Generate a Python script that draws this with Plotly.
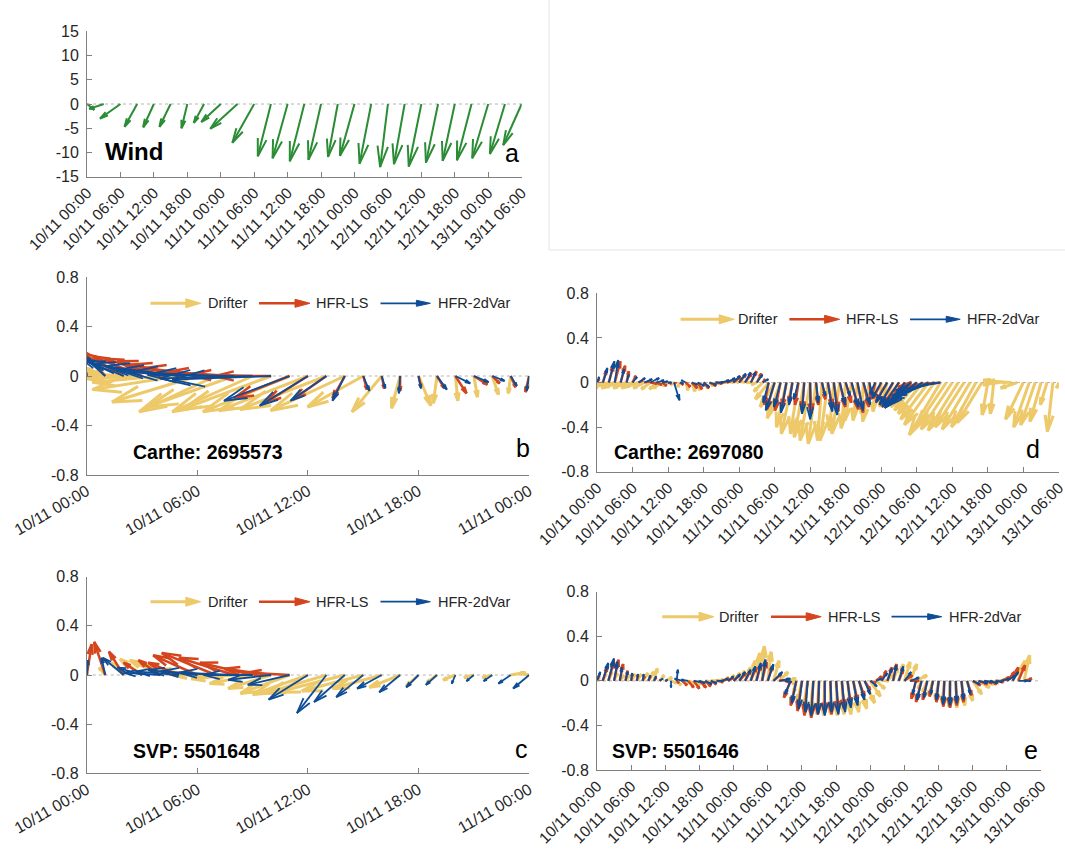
import plotly.graph_objects as go
from datetime import datetime, timedelta

FIG_W, FIG_H = 1065, 862
T0 = datetime(2021, 11, 10, 0, 0)

# ---------------- data (u, v components; hours since 10/11 00:00) ----------------
wind_hours = [0, 3, 6, 9, 12, 15, 18, 21, 24, 27, 30, 33, 36, 39, 42, 45, 48, 51, 54, 57, 60, 63, 66, 69, 72, 75, 78]
wind_u = [1.5, -3.0, -4.2, -2.6, -2.2, -2.3, -1.2, -2.1, -4.0, -5.6, -4.5, -2.7, -3.1, -3.0, -2.6, -2.0, -3.0, -2.4,
          -1.6, -2.2, -2.6, -2.5, -2.5, -3.0, -3.3, -3.1, -3.8]
wind_v = [-1.2, -1.0, -3.0, -4.7, -4.8, -4.7, -5.0, -3.9, -3.7, -5.1, -8.0, -10.8, -11.2, -11.8, -11.5, -10.9, -10.7,
          -12.3, -13.0, -12.4, -12.9, -12.1, -11.7, -11.6, -11.2, -10.3, -8.5]

b_hours = [0, 1, 2, 3, 4, 5, 6, 7, 8, 9, 10, 11, 12, 13, 14, 15, 16, 17, 18, 19, 20, 21, 22, 23, 24]
b_drifter_u = [-0.05, -0.15, -0.30, -0.45, -0.55, -0.70, -0.69, -0.62, -0.70, -0.65, -0.72, -0.70, -0.72, -0.70, -0.60,
               -0.45, -0.24, -0.07, 0.10, -0.03, 0.02, 0.03, 0.05, -0.02, 0.00]
b_drifter_v = [0.09, 0.06, 0.02, -0.02, -0.05, -0.11, -0.21, -0.29, -0.25, -0.29, -0.27, -0.29, -0.28, -0.27, -0.28,
               -0.25, -0.29, -0.26, -0.24, -0.22, -0.20, -0.17, -0.15, -0.14, -0.09]
b_ls_u = [-0.05, -0.20, -0.35, -0.40, -0.45, -0.50, -0.55, -0.60, -0.55, -0.50, -0.45, -0.45, -0.35, -0.27, -0.10,
          0.03, 0.02, 0.00, 0.02, 0.06, 0.09, 0.11, 0.06, 0.04, -0.03]
b_ls_v = [0.24, 0.22, 0.19, 0.16, 0.14, 0.12, 0.09, 0.06, 0.03, 0.01, 0.00, -0.18, -0.22, -0.19, -0.18, -0.11, -0.10,
          -0.12, -0.09, -0.10, -0.14, -0.07, -0.06, -0.09, -0.13]
b_2dvar_u = [-0.03, -0.20, -0.35, -0.45, -0.55, -0.60, -0.65, -0.70, -0.70, -0.75, -0.80, -0.53, -0.39, -0.29, -0.10,
             0.05, 0.03, -0.01, 0.02, 0.08, 0.12, 0.12, 0.10, 0.05, -0.02]
b_2dvar_v = [0.21, 0.18, 0.14, 0.12, 0.10, 0.08, 0.05, 0.03, 0.01, -0.02, -0.03, -0.20, -0.24, -0.20, -0.20, -0.12,
             -0.10, -0.14, -0.10, -0.11, -0.06, -0.05, -0.04, -0.08, -0.12]

c_hours = [0, 1, 2, 3, 4, 5, 6, 7, 8, 9, 10, 11, 12, 13, 14, 15, 16, 17, 18, 19, 20, 21, 22, 23, 24]
c_drifter_u = [0.00, -0.05, -0.10, -0.18, -0.25, -0.30, -0.32, -0.35, -0.35, -0.35, -0.35, -0.40, -0.45, -0.50, -0.55,
               -0.50, -0.40, -0.25, -0.10, -0.08, -0.10, -0.08, -0.08, 0.12, -0.05]
c_drifter_v = [0.02, 0.06, 0.10, 0.13, 0.12, 0.08, 0.04, 0.00, -0.03, -0.07, -0.11, -0.15, -0.16, -0.15, -0.14, -0.13,
               -0.11, -0.10, -0.09, -0.06, -0.04, -0.02, -0.02, 0.02, 0.01]
c_ls_hours = [0, 1, 2, 3, 4, 5, 6, 7, 8, 9, 10, 11]
c_ls_u = [0.04, -0.09, -0.12, -0.15, -0.18, -0.25, -0.36, -0.44, -0.45, -0.43, -0.38, -0.34]
c_ls_v = [0.25, 0.27, 0.19, 0.10, 0.12, 0.10, 0.16, 0.18, 0.14, 0.10, 0.05, 0.02]
c_2dvar_u = [0.01, -0.03, -0.17, -0.20, -0.30, -0.35, -0.40, -0.45, -0.45, -0.40, -0.35, -0.34, -0.32, -0.24, -0.25,
             -0.22, -0.20, -0.17, -0.10, -0.09, -0.03, -0.06, -0.07, -0.10, -0.13]
c_2dvar_v = [0.12, 0.14, 0.14, 0.06, 0.02, 0.03, 0.04, 0.03, 0.02, 0.00, -0.04, -0.08, -0.20, -0.31, -0.22, -0.18,
             -0.11, -0.14, -0.10, -0.08, -0.07, -0.05, -0.05, -0.07, -0.11]

d_drifter_hours = [0, 1, 2, 3, 4, 5, 6, 7, 8, 9, 10, 11, 12, 13, 14, 15, 16, 17, 18, 19, 20, 21, 22, 23, 24, 25, 26,
                   27, 28, 29, 30, 31, 32, 33, 34, 35, 36, 37, 38, 39, 40, 41, 42, 43, 44, 45, 46, 47, 48, 49, 50, 51,
                   52, 53, 54, 55, 56, 57, 58, 59, 60, 61, 62, 63, 64, 65, 66, 67, 68, 69, 70, 71, 72, 73, 74, 75, 76,
                   77, 78]
d_drifter_u = [-0.05, -0.10, -0.15, -0.12, -0.15, -0.12, -0.10, -0.12, -0.10, -0.08, -0.06, -0.08, -0.05, -0.03, -0.02,
               0.02, 0.03, 0.02, 0.04, 0.03, -0.03, -0.05, -0.05, -0.06, -0.05, -0.04, -0.04, -0.05, -0.08, -0.12,
               -0.13, -0.12, -0.09, -0.10, -0.07, -0.09, -0.09, -0.07, -0.04, -0.07, -0.04, -0.07, -0.04, -0.06, -0.04,
               -0.02, -0.06, -0.02, -0.01, -0.05, -0.10, -0.12, -0.15, -0.18, -0.20, -0.22, -0.25, -0.27, -0.28,
               -0.27, -0.28, -0.27, -0.26, -0.25, -0.22, -0.22, -0.05, -0.03, -0.15, -0.20, -0.22, -0.15, -0.16,
               -0.14, -0.13, -0.10, -0.06, -0.05, -0.02]
d_drifter_v = [0.06, -0.03, -0.05, -0.05, -0.04, -0.05, -0.05, -0.04, -0.05, -0.06, -0.06, -0.05, -0.03, -0.02, -0.04,
               -0.07, -0.08, -0.07, -0.05, -0.03, -0.02, -0.01, 0.00, 0.01, 0.01, 0.01, 0.00, -0.02, -0.08, -0.15,
               -0.22, -0.32, -0.40, -0.46, -0.46, -0.49, -0.52, -0.55, -0.52, -0.52, -0.43, -0.46, -0.41, -0.34, -0.34,
               -0.28, -0.35, -0.26, -0.22, -0.20, -0.22, -0.20, -0.20, -0.22, -0.25, -0.28, -0.33, -0.38, -0.47,
               -0.40, -0.42, -0.43, -0.40, -0.42, -0.40, -0.36, -0.29, -0.28, -0.02, 0.02, 0.01, -0.05, -0.33,
               -0.40, -0.38, -0.35, -0.20, -0.44, -0.05]
d_hfr_hours = [0, 1, 2, 3, 4, 5, 6, 7, 8, 9, 10, 11, 12, 13, 14, 15, 16, 17, 18, 19, 20, 21, 22, 23, 24, 25, 26, 27,
               28, 29, 30, 31, 32, 33, 34, 35, 36, 37, 38, 39, 40, 41, 42, 43, 44, 45, 46, 47, 48, 49, 50, 51, 52, 53,
               54, 55, 56, 57, 58]
d_ls_u = [0.02, 0.03, 0.04, 0.05, 0.04, 0.02, 0.03, 0.04, 0.05, 0.06, 0.05, 0.04, 0.03, 0.02, 0.03, 0.04, 0.05, 0.04,
          0.05, 0.06, 0.06, 0.07, 0.07, 0.07, 0.06, 0.06, 0.05, 0.04, 0.02, -0.04, -0.07, -0.05, -0.04, -0.03, -0.03,
          -0.02, 0.01, 0.02, 0.03, 0.04, 0.04, 0.05, 0.05, 0.06, 0.05, 0.05, 0.02, -0.03, -0.07, -0.10, -0.12, -0.15,
          -0.18, -0.22, -0.26, -0.30, -0.33, -0.36, -0.38]
d_ls_v = [0.03, 0.10, 0.15, 0.19, 0.15, 0.10, 0.06, 0.02, 0.01, -0.01, -0.02, -0.03, -0.01, -0.01, -0.02, -0.04, -0.05,
          -0.06, -0.05, -0.03, -0.01, 0.01, 0.03, 0.05, 0.07, 0.08, 0.10, 0.08, 0.03, -0.20, -0.24, -0.25, -0.22,
          -0.18, -0.20, -0.25, -0.28, -0.20, -0.15, -0.22, -0.26, -0.22, -0.18, -0.24, -0.27, -0.22, -0.15, -0.12,
          -0.14, -0.17, -0.20, -0.21, -0.22, -0.20, -0.18, -0.15, -0.12, -0.08, -0.04]
d_2dvar_u = [0.02, 0.04, 0.05, 0.03, 0.03, 0.02, 0.04, 0.06, 0.07, 0.08, 0.07, 0.05, 0.03, 0.05, 0.03, -0.04, 0.05,
             0.06, 0.05, 0.06, 0.07, 0.07, 0.07, 0.06, 0.06, 0.05, 0.04, 0.05, 0.05, -0.05, -0.08, -0.06, -0.05, -0.03,
             -0.04, -0.02, 0.00, 0.02, 0.03, 0.04, 0.03, 0.05, 0.04, 0.06, 0.05, 0.06, 0.03, -0.05, -0.08, -0.10,
             -0.12, -0.15, -0.18, -0.22, -0.26, -0.30, -0.34, -0.38, -0.40]
d_2dvar_v = [0.05, 0.13, 0.19, 0.20, 0.12, 0.07, 0.05, 0.04, 0.03, 0.04, 0.02, 0.01, 0.00, -0.16, -0.01, 0.02, -0.02,
             -0.03, -0.04, -0.02, 0.00, 0.02, 0.04, 0.06, 0.08, 0.09, 0.09, 0.07, 0.03, -0.18, -0.25, -0.22, -0.27,
             -0.20, -0.15, -0.28, -0.33, -0.18, -0.12, -0.26, -0.29, -0.20, -0.12, -0.22, -0.25, -0.20, -0.12, -0.10,
             -0.14, -0.18, -0.20, -0.22, -0.23, -0.22, -0.21, -0.19, -0.16, -0.12, -0.07]

e_hours = [0, 1, 2, 3, 4, 5, 6, 7, 8, 9, 10, 11, 12, 13, 14, 15, 16, 17, 18, 19, 20, 21, 22, 23, 24, 25, 26, 27, 28,
           29, 30, 31, 32, 33, 34, 35, 36, 37, 38, 39, 40, 41, 42, 43, 44, 45, 46, 47, 48, 49, 50, 51, 52, 53, 54, 55,
           56, 57, 58, 59, 60, 61, 62, 63, 64, 65, 66, 67, 68, 69, 70, 71, 72, 73, 74, 75]
e_drifter_u = [0.02, 0.03, 0.03, 0.03, 0.04, 0.04, 0.04, 0.04, 0.05, 0.05, 0.03, 0.04, 0.06, 0.05, 0.04, 0.05, 0.06,
               0.06, 0.06, 0.06, 0.06, 0.06, 0.06, 0.06, 0.06, 0.05, 0.05, 0.04, 0.03, 0.02, 0.03, 0.05, 0.08, 0.10,
               0.03, -0.02, -0.04, -0.04, -0.03, -0.02, -0.01, 0.00, 0.01, 0.02, 0.03, 0.05, 0.07, 0.09, 0.09, 0.08,
               0.06, 0.05, 0.04, 0.04, 0.05, 0.06, 0.10, -0.03, -0.04, -0.04, -0.03, -0.02, -0.01, 0.01, 0.03, 0.05,
               0.08, 0.10, 0.09, 0.08, 0.08, 0.08, 0.07, 0.07, 0.06, 0.05]
e_drifter_v = [0.03, 0.06, 0.08, 0.07, 0.05, 0.05, 0.06, 0.06, 0.07, 0.08, 0.11, 0.05, 0.03, -0.02, -0.04, -0.03, -0.02,
               -0.03, -0.02, -0.01, 0.00, 0.01, 0.03, 0.05, 0.07, 0.09, 0.12, 0.18, 0.25, 0.31, 0.26, 0.18, 0.08, 0.02,
               -0.03, -0.10, -0.18, -0.25, -0.28, -0.30, -0.31, -0.30, -0.31, -0.30, -0.30, -0.28, -0.25, -0.20, -0.14,
               -0.07, 0.00, 0.06, 0.11, 0.15, 0.17, 0.15, 0.05, -0.07, -0.10, -0.13, -0.17, -0.20, -0.23, -0.24, -0.22,
               -0.18, -0.12, -0.06, -0.03, -0.02, 0.00, 0.03, 0.07, 0.12, 0.18, 0.23]
e_ls_u = [0.02, 0.04, 0.05, 0.04, 0.03, 0.02, 0.01, 0.01, 0.02, 0.02, 0.02, 0.01, 0.01, 0.00, 0.02, 0.04, 0.05, 0.05,
          0.06, 0.05, 0.05, 0.06, 0.06, 0.05, 0.05, 0.06, 0.05, 0.05, 0.04, 0.04, 0.04, 0.07, 0.09, 0.05, -0.06, -0.05,
          -0.04, -0.03, -0.02, -0.01, 0.00, 0.01, 0.02, 0.02, 0.03, 0.04, 0.05, 0.05, 0.05, 0.05, 0.04, 0.04, 0.03,
          0.04, 0.07, 0.08, -0.04, -0.05, -0.04, -0.03, -0.02, -0.01, 0.00, 0.01, 0.02, 0.04, 0.07, 0.08, 0.07, 0.06,
          0.07, 0.07, 0.07, 0.05, 0.06, 0.07]
e_ls_v = [0.05, 0.12, 0.17, 0.19, 0.15, 0.09, 0.06, 0.05, 0.04, 0.04, 0.03, 0.01, 0.00, 0.00, -0.02, -0.04, -0.06, -0.07,
          -0.06, -0.05, -0.03, -0.01, 0.02, 0.03, 0.05, 0.07, 0.09, 0.12, 0.14, 0.17, 0.13, 0.06, 0.01, -0.02, -0.15,
          -0.22, -0.27, -0.31, -0.33, -0.30, -0.29, -0.30, -0.27, -0.25, -0.22, -0.19, -0.14, -0.08, -0.02, 0.04,
          0.09, 0.12, 0.15, 0.10, 0.05, 0.00, -0.16, -0.19, -0.17, -0.14, -0.19, -0.23, -0.24, -0.22, -0.19, -0.13,
          -0.04, -0.03, -0.02, -0.03, -0.01, 0.03, 0.08, 0.12, 0.14, 0.02]
e_2dvar_u = [0.03, 0.05, 0.05, 0.03, 0.02, 0.02, 0.01, 0.01, 0.01, 0.02, 0.02, 0.03, 0.02, 0.00, 0.01, -0.07, -0.06,
             0.06, 0.05, 0.06, 0.05, 0.06, 0.05, 0.05, 0.06, 0.05, 0.05, 0.04, 0.04, 0.03, 0.05, 0.08, 0.10, 0.06,
             -0.05, -0.04, -0.03, -0.02, -0.02, -0.01, 0.00, 0.01, 0.02, 0.03, 0.03, 0.04, 0.05, 0.05, 0.06, 0.05,
             0.05, 0.04, 0.03, 0.04, 0.06, 0.08, -0.03, -0.04, -0.03, -0.02, -0.02, -0.01, 0.00, 0.01, 0.02, 0.03,
             0.06, 0.08, 0.08, 0.07, 0.06, 0.08, 0.08, 0.05, 0.08, 0.06]
e_2dvar_v = [0.08, 0.16, 0.20, 0.17, 0.12, 0.08, 0.07, 0.06, 0.06, 0.05, 0.04, 0.02, 0.01, -0.06, 0.10, 0.02, 0.01,
             -0.01, -0.02, -0.03, -0.02, 0.00, 0.02, 0.04, 0.06, 0.08, 0.10, 0.13, 0.16, 0.19, 0.15, 0.08, 0.02,
             -0.01, -0.12, -0.20, -0.25, -0.28, -0.31, -0.30, -0.31, -0.28, -0.30, -0.28, -0.24, -0.22, -0.17, -0.12,
             -0.05, 0.02, 0.07, 0.11, 0.14, 0.13, 0.08, 0.03, -0.12, -0.17, -0.15, -0.12, -0.17, -0.21, -0.22, -0.20,
             -0.17, -0.12, -0.03, -0.02, -0.01, -0.02, -0.01, 0.02, 0.05, 0.08, 0.00, 0.00]

y_ticks_wind = [-15, -10, -5, 0, 5, 10, 15]
y_ticktext_wind = ['-15', '-10', '-5', '0', '5', '10', '15']
y_ticks_cur = [-0.8, -0.4, 0, 0.4, 0.8]
y_ticktext_cur = ['-0.8', '-0.4', '0', '0.4', '0.8']
legend_names = ['Drifter', 'HFR-LS', 'HFR-2dVar']

# ---------------- styling / layout ----------------
YELLOW, RED, BLUE, GREEN = '#EDC96A', '#D4451E', '#0E4D96', '#2A8C34'
FONT = 'Liberation Sans, Arial, Helvetica, sans-serif'
AX_COL = '#808080'
TXT_COL = '#262626'

# pixel boxes (x0, top, x1, bottom)
PANELS = {
    'a': dict(n='', box=(87.0, 31.3, 521.7, 176.7), hours=78, yr=(-15, 15), angle=-45, xfs=15.5),
    'b': dict(n='2', box=(86.8, 277.0, 529.3, 475.0), hours=24, yr=(-0.8, 0.8), angle=-30, xfs=16),
    'c': dict(n='3', box=(86.8, 576.7, 529.3, 773.3), hours=24, yr=(-0.8, 0.8), angle=-30, xfs=16),
    'd': dict(n='4', box=(597.0, 293.3, 1058.9, 471.7), hours=78, yr=(-0.8, 0.8), angle=-45, xfs=15.5),
    'e': dict(n='5', box=(597.0, 591.7, 1041.2, 770.0), hours=78, yr=(-0.8, 0.8), angle=-45, xfs=15.5),
}


def tstr(h):
    return (T0 + timedelta(hours=h)).strftime('%Y-%m-%d %H:%M:%S.%f')


def quiver(fig, key, hours, u, v, color, width):
    p = PANELS[key]
    x0, top, x1, bot = p['box']
    pph = (x1 - x0) / p['hours']
    ppu = (bot - top) / (p['yr'][1] - p['yr'][0])
    xs, ys = [], []
    al, be = 0.33, 0.25
    for t, uu, vv in zip(hours, u, v):
        dx, dy = uu * ppu, vv * ppu
        lx, ly = dx - al * (dx + be * dy), dy - al * (dy - be * dx)
        rx, ry = dx - al * (dx - be * dy), dy - al * (dy + be * dx)
        for pt in [(0, 0), (dx, dy), None, (lx, ly), (dx, dy), (rx, ry), None]:
            if pt is None:
                xs.append(None)
                ys.append(None)
            else:
                xs.append(tstr(t + pt[0] / pph))
                ys.append(pt[1] / ppu)
    fig.add_trace(go.Scatter(x=xs, y=ys, mode='lines', line=dict(color=color, width=width),
                             xaxis='x' + p['n'], yaxis='y' + p['n'], hoverinfo='skip', showlegend=False))


fig = go.Figure()

quiver(fig, 'a', wind_hours, wind_u, wind_v, GREEN, 2)
quiver(fig, 'b', b_hours, b_drifter_u, b_drifter_v, YELLOW, 3)
quiver(fig, 'b', b_hours, b_ls_u, b_ls_v, RED, 2.5)
quiver(fig, 'b', b_hours, b_2dvar_u, b_2dvar_v, BLUE, 1.8)
quiver(fig, 'c', c_hours, c_drifter_u, c_drifter_v, YELLOW, 3)
quiver(fig, 'c', c_ls_hours, c_ls_u, c_ls_v, RED, 2.5)
quiver(fig, 'c', c_hours, c_2dvar_u, c_2dvar_v, BLUE, 1.8)
quiver(fig, 'd', d_drifter_hours, d_drifter_u, d_drifter_v, YELLOW, 3)
quiver(fig, 'd', d_hfr_hours, d_ls_u, d_ls_v, RED, 2.5)
quiver(fig, 'd', d_hfr_hours, d_2dvar_u, d_2dvar_v, BLUE, 1.8)
quiver(fig, 'e', e_hours, e_drifter_u, e_drifter_v, YELLOW, 3)
quiver(fig, 'e', e_hours, e_ls_u, e_ls_v, RED, 2.5)
quiver(fig, 'e', e_hours, e_2dvar_u, e_2dvar_v, BLUE, 1.8)

layout = dict(width=FIG_W, height=FIG_H, margin=dict(l=0, r=0, t=0, b=0),
              paper_bgcolor='white', plot_bgcolor='rgba(0,0,0,0)', showlegend=False,
              font=dict(family=FONT, color=TXT_COL))
shapes = []
annotations = []
for key, p in PANELS.items():
    x0, top, x1, bot = p['box']
    n = p['n']
    layout['xaxis' + n] = dict(
        type='date', domain=[x0 / FIG_W, x1 / FIG_W], anchor='y' + n,
        range=[tstr(0), tstr(p['hours'] + 0.01)], tick0=tstr(0), dtick=6 * 3600 * 1000,
        tickformat='%d/%m %H:%M', tickangle=p['angle'], ticks='inside', ticklen=5,
        tickcolor=AX_COL, showline=True, linecolor=AX_COL, linewidth=1, showgrid=False,
        zeroline=False, tickfont=dict(size=p['xfs'], color=TXT_COL, family=FONT), automargin=False,
        ticklabeloverflow='allow')
    if key == 'a':
        tv, tt = y_ticks_wind, y_ticktext_wind
    else:
        tv, tt = y_ticks_cur, y_ticktext_cur
    layout['yaxis' + n] = dict(
        domain=[1 - bot / FIG_H, 1 - top / FIG_H], anchor='x' + n, range=list(p['yr']),
        tickvals=tv, ticktext=tt, ticks='inside', ticklen=5, tickcolor=AX_COL,
        showline=True, linecolor=AX_COL, linewidth=1, showgrid=False, zeroline=False,
        tickfont=dict(size=16, color=TXT_COL, family=FONT), automargin=False, ticklabelstandoff=4)
    shapes.append(dict(type='line', xref='x' + n + ' domain', yref='y' + n, x0=0, x1=1, y0=0, y1=0,
                       line=dict(color='#b4b4b4', width=1, dash='3px,3px'), layer='below'))

# overlay pixel-space axes for legend keys
layout['xaxis6'] = dict(domain=[0, 1], range=[0, FIG_W], visible=False, anchor='y6', fixedrange=True)
layout['yaxis6'] = dict(domain=[0, 1], range=[FIG_H, 0], visible=False, anchor='x6', fixedrange=True)

# faint frame around the empty upper-right area
shapes.append(dict(type='line', xref='paper', yref='paper', x0=549 / FIG_W, x1=549 / FIG_W,
                   y0=1, y1=1 - 250 / FIG_H, line=dict(color='#e4e4e4', width=1)))
shapes.append(dict(type='line', xref='paper', yref='paper', x0=549 / FIG_W, x1=1,
                   y0=1 - 250 / FIG_H, y1=1 - 250 / FIG_H, line=dict(color='#e4e4e4', width=1)))


def px_ann(x, y, text, size, bold=False, xanchor='left', color='black'):
    annotations.append(dict(xref='paper', yref='paper', x=x / FIG_W, y=1 - y / FIG_H,
                            text=('<b>%s</b>' % text) if bold else text,
                            showarrow=False, xanchor=xanchor, yanchor='middle',
                            font=dict(size=size, color=color, family=FONT)))


px_ann(103, 151, 'Wind', 24, bold=True)
px_ann(521, 153, 'a', 25, xanchor='right')
px_ann(131, 452, 'Carthe: 2695573', 19.5, bold=True)
px_ann(532, 448, 'b', 25, xanchor='right')
px_ann(131, 751, 'SVP: 5501648', 19.5, bold=True)
px_ann(530, 749, 'c', 25, xanchor='right')
px_ann(612, 452, 'Carthe: 2697080', 19.5, bold=True)
px_ann(1042, 449, 'd', 25, xanchor='right')
px_ann(610, 751, 'SVP: 5501646', 19.5, bold=True)
px_ann(1040, 750, 'e', 25, xanchor='right')

# legend keys: (y, [(arrow_x0, arrow_x1, text_x)] for Drifter, HFR-LS, HFR-2dVar)
LEGENDS = [
    (303.3, [(150.5, 200.8, 205.6), (259.0, 310.0, 314.0), (380.5, 430.4, 435.6)]),
    (601.7, [(150.5, 200.8, 205.6), (259.0, 310.0, 314.0), (380.5, 430.4, 435.6)]),
    (319.3, [(680.6, 734.2, 735.9), (789.4, 839.6, 844.0), (910.0, 960.2, 965.0)]),
    (616.7, [(662.2, 714.0, 717.4), (771.0, 821.2, 826.2), (891.5, 941.7, 946.8)]),
]
# (colour, shaft width, head length, head half-width)
styles = [(YELLOW, 3, 15, 4.5), (RED, 2.5, 15, 4.0), (BLUE, 1.8, 14, 3.0)]
for ly, items in LEGENDS:
    for (ax0, ax1, tx), name, (col, w, hl, hw) in zip(items, legend_names, styles):
        fig.add_trace(go.Scatter(x=[ax0, ax1 - hl + 1], y=[ly, ly], mode='lines',
                                 line=dict(color=col, width=w), xaxis='x6', yaxis='y6',
                                 hoverinfo='skip', showlegend=False))
        fig.add_trace(go.Scatter(x=[ax1 - hl, ax1, ax1 - hl, ax1 - hl], y=[ly - hw, ly, ly + hw, ly - hw],
                                 mode='lines', fill='toself', fillcolor=col, line=dict(color=col, width=1),
                                 xaxis='x6', yaxis='y6', hoverinfo='skip', showlegend=False))
        px_ann(tx, ly, name, 14.5, color=TXT_COL)

layout['shapes'] = shapes
layout['annotations'] = annotations
fig.update_layout(**layout)
fig.write_html('out.html')
